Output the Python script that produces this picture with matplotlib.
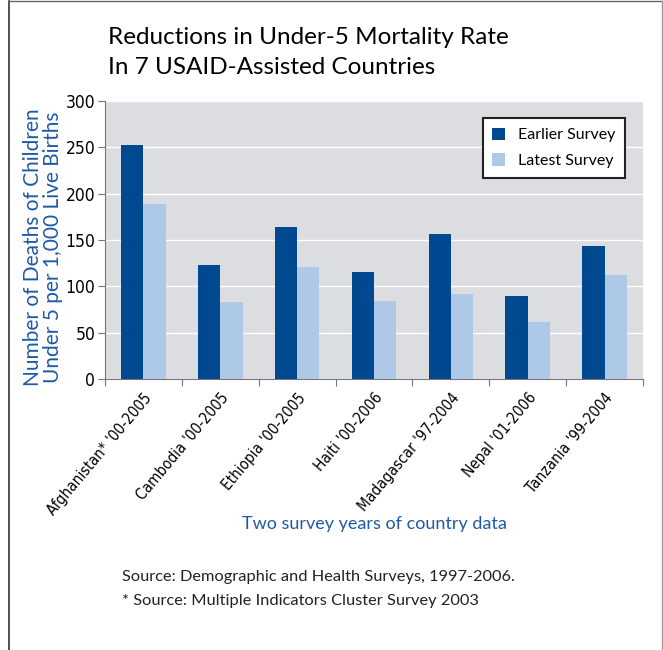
import numpy as np
import matplotlib.pyplot as plt
from matplotlib.lines import Line2D

# Datos del gráfico
paises = ["Afghanistan* '00-2005", "Cambodia '00-2005", "Ethiopia '00-2005",
          "Haiti '00-2006", "Madagascar '97-2004", "Nepal '01-2006",
          "Tanzania '99-2004"]
encuesta_anterior = [253, 123, 164, 116, 156, 90, 144]
encuesta_reciente = [189, 83, 121, 84, 92, 62, 112]

azul_oscuro = '#004990'
azul_claro = '#adc9e7'
azul_texto = '#1f5aa6'
fuente = ['Lato', 'DejaVu Sans']

fig = plt.figure(figsize=(6.63, 6.5), dpi=100)
ax = fig.add_axes([105 / 663, 1 - 379 / 650, 538 / 663, 278 / 650])

x = np.arange(len(paises))
ancho = 0.29
ax.bar(x - ancho / 2, encuesta_anterior, ancho, color=azul_oscuro, label='Earlier Survey', zorder=3)
ax.bar(x + ancho / 2, encuesta_reciente, ancho, color=azul_claro, label='Latest Survey', zorder=3)

ax.set_facecolor('#dcdde0')
ax.set_xlim(-0.5, len(paises) - 0.5)
ax.set_ylim(0, 300)
ax.set_yticks(range(0, 301, 50))
ax.yaxis.grid(True, color='white', linewidth=1, zorder=0)
ax.set_yticklabels([str(v) for v in range(0, 301, 50)], family='DejaVu Sans',
                   fontstretch='condensed', fontsize=12.5)

# marcas del eje x entre categorías
ax.set_xticks(np.arange(-0.5, len(paises), 1))
ax.set_xticklabels([])
ax.set_xticks(x, minor=True)
ax.set_xticklabels(paises, minor=True, rotation=50, ha='right', rotation_mode='anchor',
                   family='DejaVu Sans', fontstretch='condensed', fontsize=11)
ax.tick_params(axis='x', which='minor', length=0, pad=8)
ax.tick_params(axis='x', which='major', length=5, color='#777777')
ax.tick_params(axis='y', length=5, color='#777777', pad=2)

for lado in ['top', 'right']:
    ax.spines[lado].set_visible(False)
for lado in ['left', 'bottom']:
    ax.spines[lado].set_color('#777777')

leg = ax.legend(loc='upper right', bbox_to_anchor=(0.966, 0.939), borderaxespad=0,
                fancybox=False, edgecolor='#222222', framealpha=1,
                prop={'family': fuente, 'size': 11.5},
                handlelength=0.8, handleheight=0.8, borderpad=0.6, labelspacing=0.7)
leg.get_frame().set_linewidth(1.5)

fig.text(108 / 663, 1 - 37 / 650, 'Reductions in Under-5 Mortality Rate', family=fuente,
         fontsize=17.5, va='center')
fig.text(108 / 663, 1 - 68 / 650, 'In 7 USAID-Assisted Countries', family=fuente,
         fontsize=17.5, va='center')

fig.text(43 / 663, 1 - 247 / 650, 'Number of Deaths of Children\nUnder 5 per 1,000 Live Births',
         rotation=90, ha='center', va='center', color=azul_texto, family=fuente, fontsize=15,
         linespacing=1.05)
fig.text(374 / 663, 1 - 524 / 650, 'Two survey years of country data', ha='center', va='center',
         color=azul_texto, family=fuente, fontsize=13)

fig.text(122 / 663, 1 - 577 / 650, 'Source: Demographic and Health Surveys, 1997-2006.',
         family=fuente, fontsize=11.8, va='center', color='#222222')
fig.text(122 / 663, 1 - 601 / 650, '* Source: Multiple Indicators Cluster Survey 2003',
         family=fuente, fontsize=11.8, va='center', color='#222222')

# marco exterior
fig.add_artist(Line2D([9 / 663, 9 / 663], [0, 1 - 1 / 650], color='#333333', linewidth=1.2))
fig.add_artist(Line2D([9 / 663, 662 / 663], [1 - 1 / 650, 1 - 1 / 650], color='#666666', linewidth=1))
fig.add_artist(Line2D([662 / 663, 662 / 663], [0, 1 - 1 / 650], color='#999999', linewidth=1))

fig.savefig('out.png', dpi=100)
